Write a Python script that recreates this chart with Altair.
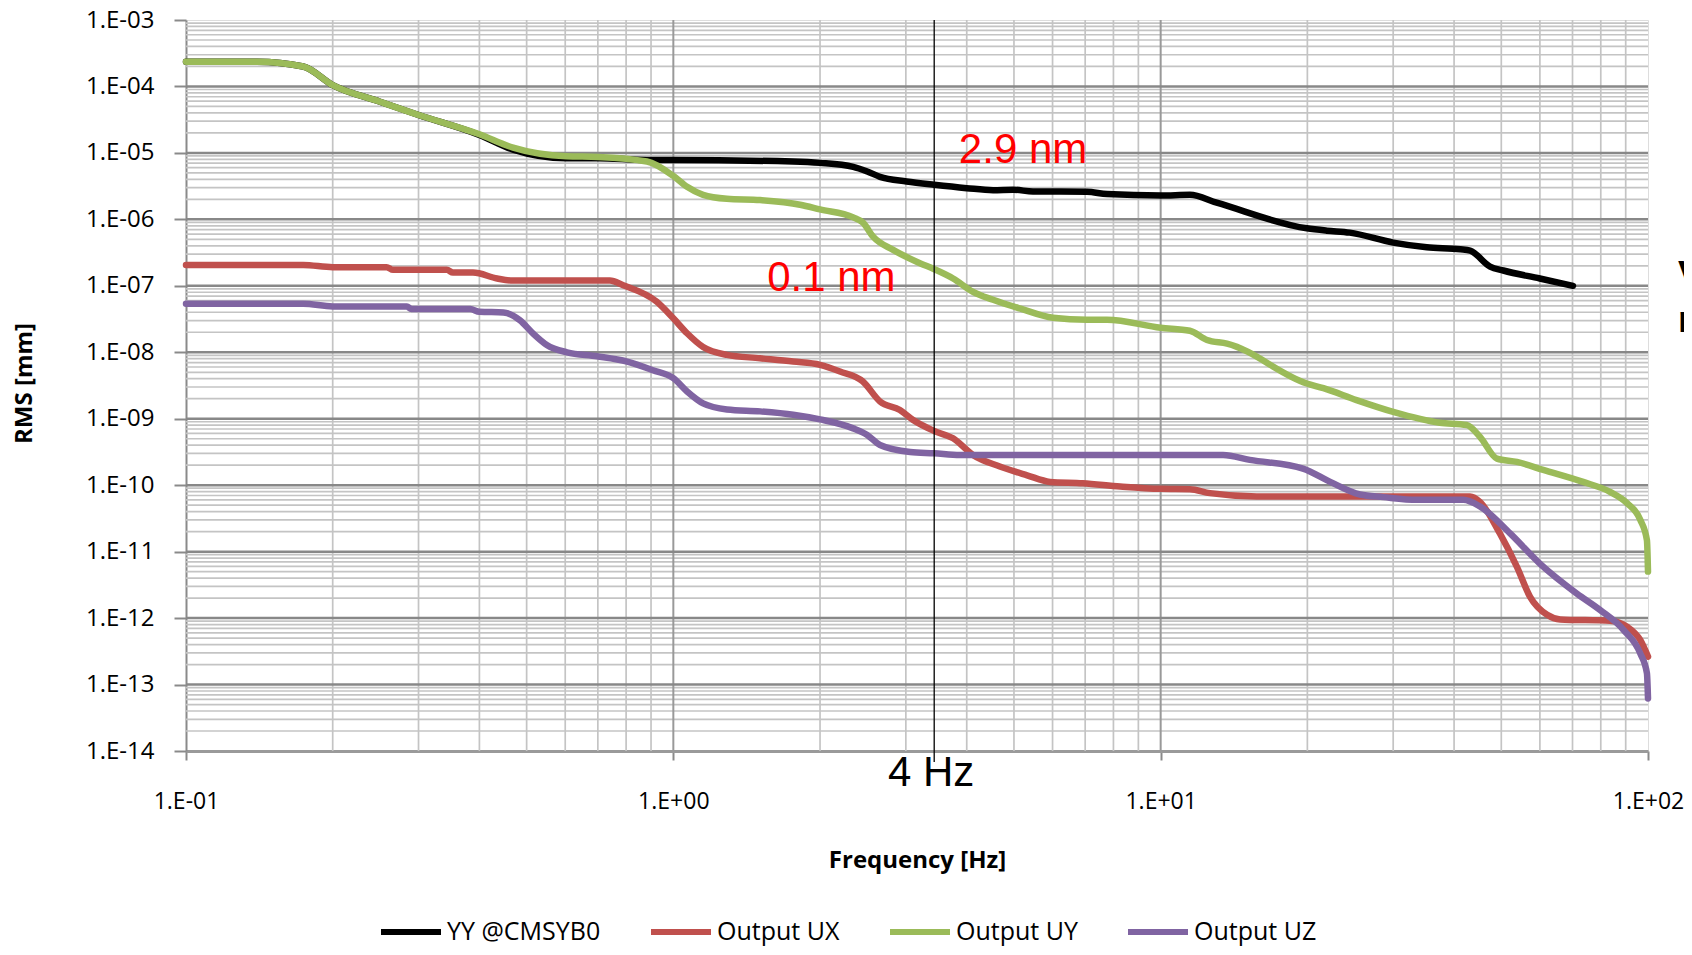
import altair as alt
import pandas as pd

SERIES = ["YY @CMSYB0", "Output UX", "Output UY", "Output UZ"]
COLORS = ["#000000", "#C0504D", "#9BBB59", "#8064A2"]

# YY @CMSYB0 (black)
YY_FREQ = [0.1, 0.14, 0.174, 0.2, 0.25, 0.3, 0.4, 0.469, 0.603, 0.7, 0.883, 1.0, 1.76, 2.0,
           2.34, 2.5, 2.655, 3.01, 3.43, 4.0, 4.53, 4.98, 5.47, 7.06, 7.76, 10.0, 11.48, 13.03,
           19.95, 21.93, 24.43, 30.0, 35.16, 41.21, 43.15, 47.42, 50.47, 59.98, 70.15]
YY_RMS = [2.36e-4, 2.36e-4, 2.0e-4, 1.05e-4, 5.89e-5, 3.72e-5, 1.86e-5, 1.12e-5, 8.32e-6, 8.32e-6,
          7.82e-6, 7.82e-6, 7.41e-6, 7.08e-6, 6.17e-6, 5.25e-6, 4.37e-6, 3.72e-6, 3.31e-6, 2.95e-6,
          2.75e-6, 2.79e-6, 2.63e-6, 2.60e-6, 2.40e-6, 2.29e-6, 2.34e-6, 1.78e-6, 7.33e-7, 6.76e-7,
          6.31e-7, 4.47e-7, 3.80e-7, 3.55e-7, 3.39e-7, 1.95e-7, 1.70e-7, 1.29e-7, 1.0e-7]

# Output UX (red)
UX_FREQ = [0.1, 0.174, 0.2, 0.258, 0.266, 0.343, 0.353, 0.388, 0.435, 0.469, 0.741, 0.789, 0.925,
           1.0, 1.067, 1.151, 1.288, 1.507, 1.762, 2.0, 2.198, 2.449, 2.655, 2.917, 3.105, 3.43,
           3.75, 4.12, 4.677, 5.32, 5.93, 6.92, 8.26, 10.0, 11.48, 12.62, 15.74, 43.15, 45.19,
           49.66, 53.83, 57.28, 62.09, 66.07, 83.56, 90.57, 96.4, 100.0]
UX_RMS = [2.06e-7, 2.06e-7, 1.91e-7, 1.91e-7, 1.74e-7, 1.74e-7, 1.58e-7, 1.58e-7, 1.29e-7, 1.20e-7,
          1.20e-7, 1.02e-7, 5.75e-8, 3.24e-8, 1.93e-8, 1.20e-8, 9.12e-9, 8.13e-9, 7.24e-9, 6.46e-9,
          5.13e-9, 3.63e-9, 1.82e-9, 1.35e-9, 9.55e-10, 6.53e-10, 5.07e-10, 2.85e-10, 1.91e-10,
          1.41e-10, 1.12e-10, 1.07e-10, 9.55e-11, 8.81e-11, 8.71e-11, 7.59e-11, 6.76e-11, 6.76e-11,
          5.62e-11, 1.88e-11, 5.89e-12, 2.09e-12, 1.12e-12, 9.55e-13, 9.12e-13, 7.41e-13, 4.68e-13,
          2.63e-13]

# Output UY (green)
UY_FREQ = [0.1, 0.14, 0.174, 0.2, 0.25, 0.3, 0.4, 0.469, 0.603, 0.7, 0.883, 1.0, 1.067, 1.151,
           1.288, 1.507, 1.82, 2.0, 2.34, 2.45, 2.57, 2.825, 3.206, 3.43, 3.75, 4.12, 4.53, 5.14,
           6.01, 7.06, 7.76, 10.0, 11.48, 12.45, 13.68, 19.95, 21.58, 25.23, 30.0, 37.41, 42.46,
           45.19, 48.98, 53.83, 60.95, 73.62, 83.56, 90.57, 96.4, 99.5, 100.0]
UY_RMS = [2.36e-4, 2.36e-4, 2.0e-4, 1.05e-4, 5.89e-5, 3.72e-5, 1.91e-5, 1.20e-5, 8.91e-6, 8.71e-6,
          7.41e-6, 4.5e-6, 3.09e-6, 2.34e-6, 2.04e-6, 1.95e-6, 1.66e-6, 1.41e-6, 1.07e-6, 8.91e-7,
          5.50e-7, 3.47e-7, 2.19e-7, 1.78e-7, 1.29e-7, 8.13e-8, 6.17e-8, 4.57e-8, 3.31e-8, 3.09e-8,
          3.09e-8, 2.34e-8, 2.11e-8, 1.53e-8, 1.35e-8, 3.39e-9, 2.88e-9, 1.91e-9, 1.27e-9, 8.71e-10,
          8.04e-10, 5.37e-10, 2.51e-10, 2.24e-10, 1.70e-10, 1.12e-10, 7.94e-11, 5.37e-11, 3.02e-11,
          1.48e-11, 5.01e-12]

# Output UZ (purple)
UZ_FREQ = [0.1, 0.174, 0.2, 0.284, 0.29, 0.383, 0.4, 0.448, 0.484, 0.515, 0.55, 0.605, 0.697,
           0.804, 0.908, 1.0, 1.067, 1.151, 1.288, 1.507, 1.762, 2.0, 2.339, 2.495, 2.655, 3.062,
           3.43, 3.873, 13.43, 15.24, 19.59, 22.28, 25.64, 28.64, 33.57, 41.78, 45.19, 52.12,
           59.98, 71.45, 79.8, 89.13, 96.4, 99.5, 100.0]
UZ_RMS = [5.37e-8, 5.37e-8, 4.90e-8, 4.90e-8, 4.47e-8, 4.47e-8, 4.07e-8, 3.98e-8, 3.05e-8, 1.93e-8,
          1.29e-8, 1.0e-8, 8.71e-9, 7.24e-9, 5.37e-9, 4.07e-9, 2.57e-9, 1.70e-9, 1.38e-9, 1.29e-9,
          1.15e-9, 9.77e-10, 7.16e-10, 5.75e-10, 4.03e-10, 3.16e-10, 3.02e-10, 2.85e-10, 2.85e-10,
          2.40e-10, 1.78e-10, 1.12e-10, 7.24e-11, 6.61e-11, 6.03e-11, 6.03e-11, 4.79e-11, 1.88e-11,
          6.61e-12, 2.34e-12, 1.32e-12, 6.61e-13, 2.95e-13, 1.48e-13, 6.17e-14]

# axis ticks
X_TICKS = [0.1, 1.0, 10.0, 100.0]
Y_TICKS = [1e-14, 1e-13, 1e-12, 1e-11, 1e-10, 1e-9, 1e-8, 1e-7, 1e-6, 1e-5, 1e-4, 1e-3]
MINOR_STEPS = [2, 3, 4, 5, 6, 7, 8, 9]

# annotations
MARKER_FREQ = 3.43
MARKER_LABEL = "4 Hz"
NOTE_TEXT = ["2.9 nm", "0.1 nm"]
NOTE_FREQ = [5.22, 2.11]
NOTE_RMS = [1.11e-5, 1.31e-7]
SIDE_TEXT = ["V", "r"]

rows = []
for name, fs, vs in zip(SERIES, [YY_FREQ, UX_FREQ, UY_FREQ, UZ_FREQ],
                        [YY_RMS, UX_RMS, UY_RMS, UZ_RMS]):
    for f, v in zip(fs, vs):
        rows.append({"series": name, "f": f, "v": v})
df = pd.DataFrame(rows)

x_minor = pd.DataFrame({"f": [k * d for d in X_TICKS[:-1] for k in MINOR_STEPS]})
x_major = pd.DataFrame({"f": X_TICKS[1:-1]})
y_minor = pd.DataFrame({"v": [k * d for d in Y_TICKS[:-1] for k in MINOR_STEPS]})
y_major = pd.DataFrame({"v": Y_TICKS[1:-1]})

xs = alt.Scale(type="log", domain=[0.1, 100], nice=False)
ys = alt.Scale(type="log", domain=[1e-14, 1e-3], nice=False)

LBL = ("'1.E' + (round(log(datum.value)/LN10) < 0 ? '-' : '+') + "
       "(abs(round(log(datum.value)/LN10)) < 10 ? '0' : '') + abs(round(log(datum.value)/LN10))")

X_AXIS = alt.Axis(
    values=X_TICKS, labelExpr=LBL, title="Frequency [Hz]", grid=False,
    domainColor="#9a9a9a", domainWidth=3, tickColor="#8a8a8a", tickWidth=2, tickSize=9,
    labelPadding=30, labelFont="Open Sans", labelFontSize=23, labelColor="#000000",
    titleFont="Open Sans", titleFontSize=24, titleFontWeight="bold", titleColor="#000000",
    titleX=731, titleY=109, titleBaseline="middle", titleAlign="center", labelFlush=False)
Y_AXIS = alt.Axis(
    values=Y_TICKS, labelExpr=LBL, title="RMS [mm]", grid=False,
    domainColor="#8a8a8a", domainWidth=2, tickColor="#8a8a8a", tickWidth=2, tickSize=12,
    labelPadding=20, labelFont="Open Sans", labelFontSize=24, labelColor="#000000",
    titleFont="Open Sans", titleFontSize=24, titleFontWeight="bold", titleColor="#000000",
    titleX=-162, titleY=363, titleAngle=270, titleBaseline="middle", titleAlign="center",
    labelFlush=False)

X_ENC = alt.X("f:Q", scale=xs, axis=X_AXIS)
Y_ENC = alt.Y("v:Q", scale=ys, axis=Y_AXIS)

MINOR_C = "#c4c4c4"
MAJOR_C = "#888888"

g_xminor = alt.Chart(x_minor).mark_rule(color=MINOR_C, strokeWidth=1.7).encode(x=X_ENC)
g_yminor = alt.Chart(y_minor).mark_rule(color=MINOR_C, strokeWidth=1.7).encode(y=Y_ENC)
g_xmajor = alt.Chart(x_major).mark_rule(color="#999999", strokeWidth=2).encode(x=X_ENC)
g_ymajor = alt.Chart(y_major).mark_rule(color=MAJOR_C, strokeWidth=2.5).encode(y=Y_ENC)

lines = alt.Chart(df).mark_line(strokeWidth=6.5, interpolate="monotone", strokeCap="round",
                                strokeJoin="round").encode(
    x=X_ENC, y=Y_ENC,
    color=alt.Color("series:N", scale=alt.Scale(domain=SERIES, range=COLORS),
                    sort=SERIES,
                    legend=alt.Legend(orient="none", legendX=192, legendY=879,
                                      direction="horizontal", columns=4, title=None,
                                      symbolType="stroke", symbolStrokeWidth=6, symbolSize=3600,
                                      labelFont="Open Sans", labelFontSize=25,
                                      labelColor="#000000", columnPadding=38, labelOffset=3)),
)

marker = alt.Chart(pd.DataFrame({"f": [MARKER_FREQ]})).mark_rule(
    color="#000000", strokeWidth=1.3).encode(x=X_ENC, y=alt.value(0), y2=alt.value(742))

marker_lbl = alt.Chart(pd.DataFrame({"f": [3.38], "t": [MARKER_LABEL]})).mark_text(
    font="Liberation Sans", fontSize=42, color="#000000", baseline="middle", align="center").encode(
    x=X_ENC, y=alt.value(753), text="t:N")

notes = alt.Chart(pd.DataFrame({"f": NOTE_FREQ, "v": NOTE_RMS, "t": NOTE_TEXT})).mark_text(
    font="Liberation Sans", fontSize=42, color="#FF0000", baseline="middle", align="center").encode(
    x=X_ENC, y=Y_ENC, text="t:N")

side_v = alt.Chart(pd.DataFrame({"t": [SIDE_TEXT[0]]})).mark_text(
    font="Liberation Sans", fontSize=37, fontWeight="bold", color="#000000",
    align="left", baseline="alphabetic").encode(x=alt.value(1492), y=alt.value(267), text="t:N")
side_r = alt.Chart(pd.DataFrame({"t": [SIDE_TEXT[1]]})).mark_text(
    font="Liberation Sans", fontSize=37, fontWeight="bold", color="#000000",
    align="left", baseline="alphabetic").encode(x=alt.value(1492), y=alt.value(312), text="t:N")

chart = alt.layer(g_xminor, g_yminor, g_xmajor, g_ymajor, lines, marker, marker_lbl, notes,
                  side_v, side_r
).properties(
    width=1462, height=731,
    padding={"left": 178, "top": 12, "right": 36, "bottom": 195},
    autosize=alt.AutoSizeParams(type="none"),
).configure_view(stroke="#000000", strokeWidth=2).configure(background="#ffffff")

chart.save("out.html", embed_options={"renderer": "svg", "actions": False})
